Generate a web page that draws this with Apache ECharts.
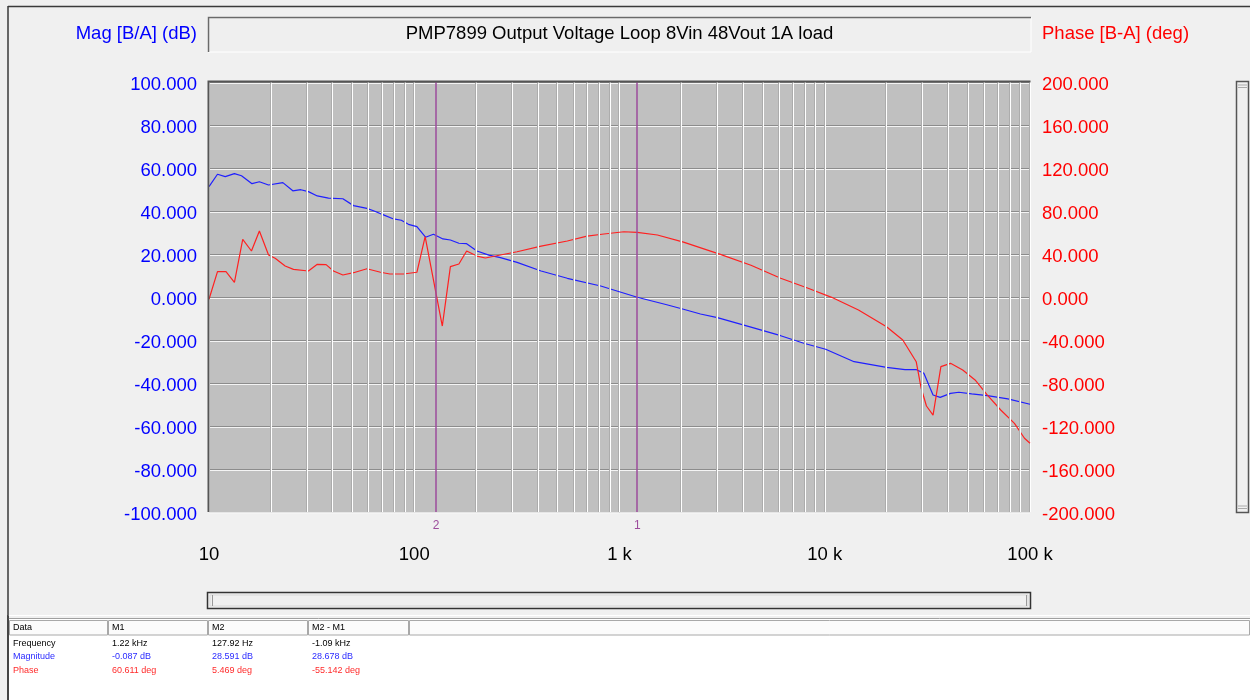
<!DOCTYPE html>
<html><head><meta charset="utf-8">
<script src="https://cdn.jsdelivr.net/npm/echarts@6/dist/echarts.min.js"></script>
<style>html,body{margin:0;padding:0;background:#f0f0f0;overflow:hidden}#c{width:1250px;height:700px;}</style>
</head><body><div id="c"></div>
<script>
const chartTitle = 'PMP7899 Output Voltage Loop 8Vin 48Vout 1A load';
const magAxisName = 'Mag [B/A] (dB)';
const phaseAxisName = 'Phase [B-A] (deg)';

const magFreq = [10, 11, 12, 13.3, 14.4, 16.2, 17.6, 19.5, 22.9, 25.6, 28, 30.5, 33.7, 38.2, 44.9, 50.6, 58.8, 63.3, 71.3, 79.3, 86.5, 93.7, 103, 113.5, 124, 138, 150, 165, 180, 202, 231, 263, 317, 415, 557, 810, 1220, 1700, 2050, 2480, 3000, 4370, 6100, 7900, 10100, 13900, 20000, 24600, 28000, 30400, 33700, 36500, 41000, 45000, 52000, 62000, 78000, 100000];
const magDb = [51.3, 57.1, 56.0, 57.4, 56.4, 52.7, 53.6, 52.1, 53.2, 49.4, 49.9, 49.0, 47.0, 46.0, 45.7, 42.5, 41.2, 40.1, 38.1, 36.3, 35.7, 33.8, 32.7, 27.8, 29.2, 27.0, 26.5, 25.0, 24.8, 21.4, 19.5, 18.3, 16.1, 12.1, 8.7, 5.1, -0.1, -3.6, -5.7, -7.9, -9.6, -14.0, -18.0, -21.5, -24.3, -30.1, -32.7, -33.8, -33.8, -35.5, -45.6, -46.7, -44.8, -44.3, -45.1, -45.9, -47.4, -49.9];

const phaseFreq = [10, 11, 12.1, 13.3, 14.6, 16.1, 17.6, 19.5, 21, 23.5, 25.8, 30.5, 33.7, 37.2, 40.4, 44.9, 50.6, 58.8, 68.5, 76.1, 88.6, 103, 113, 137, 150, 165, 180, 202, 222, 263, 317, 415, 557, 695, 840, 1050, 1220, 1530, 2050, 3100, 4370, 6100, 8300, 10800, 14600, 20000, 24000, 27900, 29500, 31300, 33700, 36800, 41000, 47000, 54000, 62000, 72000, 84000, 94000, 100000];
const phaseDeg = [-2.1, 23.6, 23.6, 13.7, 53.6, 42.8, 61.4, 39.1, 36.0, 28.8, 25.7, 24.2, 30.4, 30.1, 24.2, 20.5, 22.6, 26.3, 23.0, 21.4, 21.4, 23.0, 56.1, -27.0, 28.2, 30.7, 42.8, 38.1, 36.3, 39.1, 42.1, 47.4, 52.1, 56.7, 58.6, 60.7, 60.2, 57.7, 51.0, 39.7, 29.5, 17.4, 8.1, -0.3, -12.1, -27.6, -40.0, -60.2, -84.9, -101.4, -109.8, -64.8, -61.7, -67.9, -77.2, -91.2, -105.1, -117.5, -131.4, -136.1];

const markerFreq = [1220, 127.92];
const markerLabel = ['1', '2'];

const xTickLabels = {10: '10', 100: '100', 1000: '1 k', 10000: '10 k', 100000: '100 k'};

const tableHeaders = ['Data', 'M1', 'M2', 'M2 - M1'];
const rowNames = ['Frequency', 'Magnitude', 'Phase'];
const m1Values = ['1.22 kHz', '-0.087 dB', '60.611 deg'];
const m2Values = ['127.92 Hz', '28.591 dB', '5.469 deg'];
const diffValues = ['-1.09 kHz', '28.678 dB', '-55.142 deg'];

const FONT = '"Liberation Sans", Arial, sans-serif';
const BLUE = '#0000ff', RED = '#ff0000', PURPLE = '#9c4c9c';
const G = {left: 209, top: 82, width: 821, height: 430};

// minor log grid positions (2..9 within each decade)
const minorGrid = [];
[10, 100, 1000, 10000].forEach(d => { for (let k = 2; k <= 9; k++) minorGrid.push(d * k); });

const chart = echarts.init(document.getElementById('c'), null, {renderer: 'canvas'});

const graphics = [];
// window frame
graphics.push({type: 'line', shape: {x1: 8, y1: 6.5, x2: 1250, y2: 6.5}, style: {stroke: '#3a3a3a', lineWidth: 1.5}, silent: true});
graphics.push({type: 'line', shape: {x1: 8, y1: 6, x2: 8, y2: 700}, style: {stroke: '#3a3a3a', lineWidth: 1.5}, silent: true});
// title box (inset)
graphics.push({type: 'rect', shape: {x: 208, y: 17, width: 823, height: 35}, style: {fill: '#efefef', stroke: '#ffffff', lineWidth: 1}, silent: true});
graphics.push({type: 'polyline', shape: {points: [[208.5, 52], [208.5, 17.5], [1031, 17.5]]}, style: {stroke: '#6a6a6a', lineWidth: 1.5, fill: null}, silent: true});
graphics.push({type: 'text', x: 619.5, y: 34, style: {text: chartTitle, font: '18.5px ' + FONT, fill: '#000', align: 'center', verticalAlign: 'middle'}, silent: true});
graphics.push({type: 'text', x: 197, y: 34, style: {text: magAxisName, font: '18.5px ' + FONT, fill: BLUE, align: 'right', verticalAlign: 'middle'}, silent: true});
graphics.push({type: 'text', x: 1042, y: 34, style: {text: phaseAxisName, font: '18.5px ' + FONT, fill: RED, align: 'left', verticalAlign: 'middle'}, silent: true});
// plot inset border (top/left dark)
graphics.push({type: 'polyline', shape: {points: [[208.5, 512], [208.5, 81.5], [1030.5, 81.5]]}, style: {stroke: '#555', lineWidth: 2, fill: null}, silent: true, z: 50});
graphics.push({type: 'line', shape: {x1: 209, y1: 512.5, x2: 1030, y2: 512.5}, style: {stroke: '#e6e6e6', lineWidth: 1}, silent: true, z: 50});
// right vertical scrollbar
graphics.push({type: 'rect', shape: {x: 1236.5, y: 81.5, width: 12, height: 431}, style: {fill: '#f0f0f0', stroke: '#555', lineWidth: 1.5}, silent: true});
graphics.push({type: 'line', shape: {x1: 1238, y1: 85, x2: 1247, y2: 85}, style: {stroke: '#aaa', lineWidth: 1}, silent: true});
graphics.push({type: 'line', shape: {x1: 1238, y1: 87.5, x2: 1247, y2: 87.5}, style: {stroke: '#aaa', lineWidth: 1}, silent: true});
graphics.push({type: 'line', shape: {x1: 1238, y1: 506, x2: 1247, y2: 506}, style: {stroke: '#aaa', lineWidth: 1}, silent: true});
graphics.push({type: 'line', shape: {x1: 1238, y1: 508.5, x2: 1247, y2: 508.5}, style: {stroke: '#aaa', lineWidth: 1}, silent: true});
// bottom horizontal scrollbar
graphics.push({type: 'rect', shape: {x: 207.5, y: 592.5, width: 823, height: 16}, style: {fill: '#f0f0f0', stroke: '#333', lineWidth: 1.5}, silent: true});
graphics.push({type: 'rect', shape: {x: 210, y: 595, width: 818, height: 11}, style: {fill: '#f0f0f0', stroke: '#d8d8d8', lineWidth: 1}, silent: true});
graphics.push({type: 'line', shape: {x1: 212.5, y1: 595, x2: 212.5, y2: 606}, style: {stroke: '#999', lineWidth: 1}, silent: true});
graphics.push({type: 'line', shape: {x1: 1026.5, y1: 595, x2: 1026.5, y2: 606}, style: {stroke: '#999', lineWidth: 1}, silent: true});
// separator
graphics.push({type: 'line', shape: {x1: 8, y1: 615.5, x2: 1250, y2: 615.5}, style: {stroke: '#ffffff', lineWidth: 1}, silent: true});
graphics.push({type: 'line', shape: {x1: 8, y1: 618.5, x2: 1250, y2: 618.5}, style: {stroke: '#a0a0a0', lineWidth: 1}, silent: true});
// table
graphics.push({type: 'rect', shape: {x: 9, y: 619, width: 1241, height: 81}, style: {fill: '#ffffff'}, silent: true});
const colX = [9, 108, 208, 308, 409, 1250];
for (let i = 0; i < colX.length - 1; i++) {
  graphics.push({type: 'rect', shape: {x: colX[i] + 0.5, y: 620.5, width: colX[i + 1] - colX[i] - 1, height: 14.5}, style: {fill: '#fbfbfb', stroke: '#a8a8a8', lineWidth: 1}, silent: true});
  if (i < tableHeaders.length) {
    graphics.push({type: 'text', x: colX[i] + 4, y: 628, style: {text: tableHeaders[i], font: '9px ' + FONT, fill: '#000', verticalAlign: 'middle'}, silent: true});
  }
}
const rowColors = ['#000000', '#2b2bff', '#ff2b2b'];
const rowY = [643.5, 657, 670.5];
rowNames.forEach((n, r) => {
  const vals = [n, m1Values[r], m2Values[r], diffValues[r]];
  vals.forEach((t, c) => {
    graphics.push({type: 'text', x: colX[c] + 4, y: rowY[r], style: {text: t, font: '9px ' + FONT, fill: rowColors[r], verticalAlign: 'middle'}, silent: true});
  });
});
graphics.push({type: 'line', shape: {x1: 8, y1: 615, x2: 8, y2: 700}, style: {stroke: '#3a3a3a', lineWidth: 1.5}, silent: true});

const option = {
  animation: false,
  backgroundColor: '#f0f0f0',
  textStyle: {fontFamily: FONT},
  grid: {left: G.left, top: G.top, width: G.width, height: G.height, show: true, backgroundColor: '#c0c0c0', borderWidth: 0, containLabel: false},
  xAxis: {
    type: 'log', logBase: 10, min: 10, max: 100000,
    axisLine: {show: false}, axisTick: {show: false},
    axisLabel: {show: true, color: '#000', fontSize: 18.5, fontFamily: FONT, margin: 33, showMinLabel: true, showMaxLabel: true,
      formatter: v => { const k = Math.round(v); return xTickLabels[k] !== undefined ? xTickLabels[k] : ''; }},
    splitLine: {show: true, lineStyle: {color: '#ffffff', width: 1, shadowColor: '#acacac', shadowOffsetX: -1, shadowBlur: 0}},
    minorTick: {show: false}, minorSplitLine: {show: false}
  },
  yAxis: [
    {type: 'value', min: -100, max: 100, interval: 20, position: 'left',
      axisLine: {show: false}, axisTick: {show: false},
      axisLabel: {color: BLUE, fontSize: 18.5, fontFamily: FONT, margin: 12, formatter: v => '{s|' + v.toFixed(3) + '}',
        rich: {s: {color: BLUE, fontSize: 18.5, fontFamily: FONT, padding: [6, 0, 0, 0]}}},
      splitLine: {show: true, lineStyle: {color: '#8c8c8c', width: 1, shadowColor: '#f4f4f4', shadowOffsetY: 1, shadowBlur: 0}}},
    {type: 'value', min: -200, max: 200, interval: 40, position: 'right',
      axisLine: {show: false}, axisTick: {show: false},
      axisLabel: {color: RED, fontSize: 18.5, fontFamily: FONT, margin: 12, formatter: v => '{s|' + v.toFixed(3) + '}',
        rich: {s: {color: RED, fontSize: 18.5, fontFamily: FONT, padding: [6, 0, 0, 0]}}},
      splitLine: {show: false}}
  ],
  graphic: {elements: graphics},
  series: [
    {type: 'line', name: 'minorGrid', data: [], silent: true, z: 1,
      markLine: {silent: true, symbol: 'none', animation: false, label: {show: false},
        lineStyle: {color: '#ffffff', type: 'solid', width: 1, shadowColor: '#acacac', shadowOffsetX: -1, shadowBlur: 0},
        emphasis: {disabled: true},
        data: minorGrid.map(f => ({xAxis: f}))}},
    {type: 'line', name: 'markers', data: [], silent: true, z: 2,
      markLine: {silent: true, symbol: 'none', animation: false,
        lineStyle: {color: PURPLE, type: 'solid', width: 1.5},
        label: {show: true, position: 'start', color: PURPLE, fontSize: 12, fontFamily: FONT, distance: 8},
        emphasis: {disabled: true},
        data: markerFreq.map((f, i) => ({xAxis: f, label: {formatter: markerLabel[i]}}))}},
    {type: 'line', name: 'Magnitude', yAxisIndex: 0, z: 3, showSymbol: false, symbol: 'none', silent: true,
      lineStyle: {color: '#1f1fff', width: 1.2}, itemStyle: {color: '#1f1fff'},
      data: magFreq.map((f, i) => [f, magDb[i]])},
    {type: 'line', name: 'Phase', yAxisIndex: 1, z: 4, showSymbol: false, symbol: 'none', silent: true,
      lineStyle: {color: '#ff2020', width: 1.2}, itemStyle: {color: '#ff2020'},
      data: phaseFreq.map((f, i) => [f, phaseDeg[i]])}
  ]
};
chart.setOption(option);
</script>
</body></html>
